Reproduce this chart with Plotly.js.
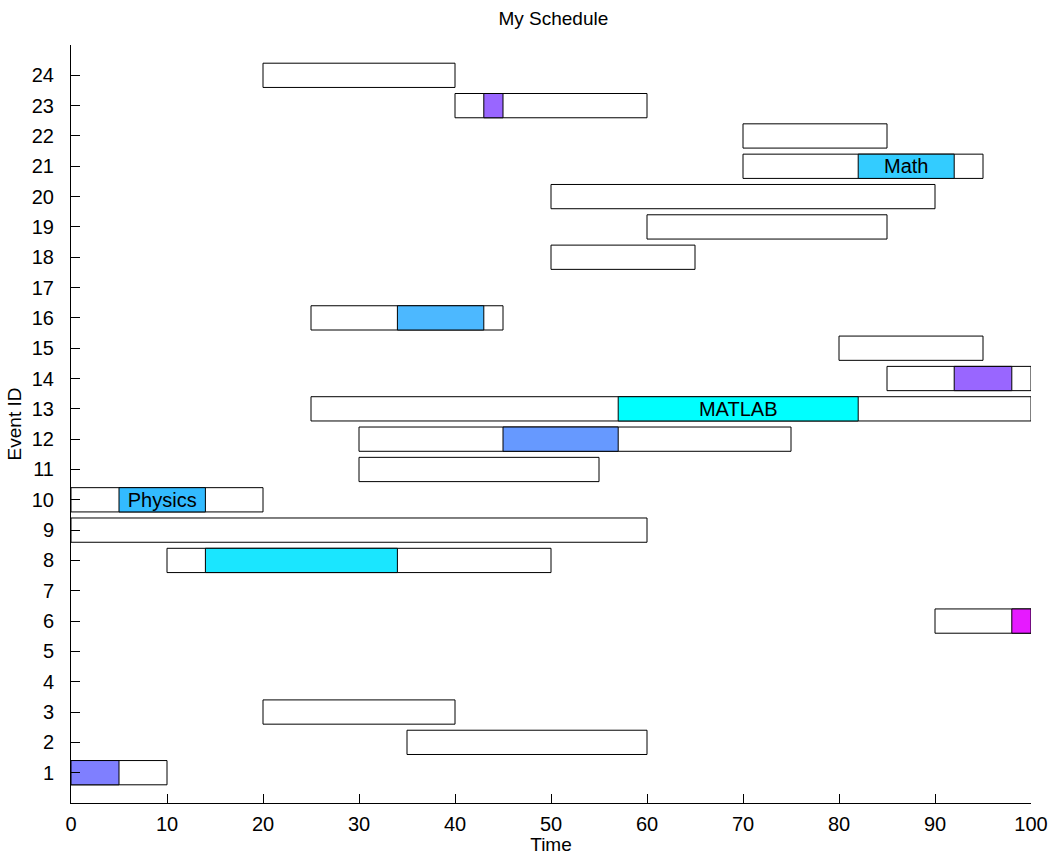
<!DOCTYPE html>
<html>
<head>
<meta charset="utf-8">
<script src="https://cdn.plot.ly/plotly-3.0.1.min.js"></script>
<style>
html,body{margin:0;padding:0;background:#fff;}
#chart{width:1050px;height:855px;}
</style>
</head>
<body>
<div id="chart"></div>
<script>
// Event bars (white boxes)
const eventIds    = [1, 2, 3, 6, 8, 9, 10, 11, 12, 13, 14, 15, 16, 18, 19, 20, 21, 22, 23, 24];
const eventStarts = [0, 35, 20, 90, 10, 0, 0, 30, 30, 25, 85, 80, 25, 50, 60, 50, 70, 70, 40, 20];
const eventEnds   = [10, 60, 40, 100, 50, 60, 20, 55, 75, 100, 100, 95, 45, 65, 85, 90, 95, 85, 60, 40];

// Highlighted sub-segments
const segIds    = [1, 6, 8, 10, 12, 13, 14, 16, 21, 23];
const segStarts = [0, 98, 14, 5, 45, 57, 92, 34, 82, 43];
const segEnds   = [5, 100, 34, 14, 57, 82, 98, 43, 92, 45];
const segColors = ['#7F7FFF', '#E61AFF', '#1AE6FF', '#33BBFF', '#6699FF', '#00FFFF', '#9966FF', '#4CB8FF', '#33CCFF', '#9966FF'];
const segLabels = ['', '', '', 'Physics', '', 'MATLAB', '', '', 'Math', ''];

const yTicks = Array.from({length: 24}, (_, i) => i + 1);
const xTicks = [0, 10, 20, 30, 40, 50, 60, 70, 80, 90, 100];

const font = 'Liberation Sans, Arial, sans-serif';

const traces = [
  {
    type: 'bar', orientation: 'h',
    y: eventIds,
    base: eventStarts,
    x: eventEnds.map((e, i) => e - eventStarts[i]),
    width: 0.8,
    marker: {color: '#ffffff', line: {color: '#000000', width: 1}},
    hoverinfo: 'skip', showlegend: false
  },
  {
    type: 'bar', orientation: 'h',
    y: segIds,
    base: segStarts,
    x: segEnds.map((e, i) => e - segStarts[i]),
    width: 0.8,
    marker: {color: segColors, line: {color: '#000000', width: 1}},
    text: segLabels,
    textposition: 'inside',
    insidetextanchor: 'middle',
    constraintext: 'none',
    textfont: {family: font, size: 20, color: '#000000'},
    hoverinfo: 'skip', showlegend: false
  }
];

const layout = {
  width: 1050, height: 855,
  margin: {l: 71, r: 19, t: 45, b: 52},
  paper_bgcolor: '#ffffff', plot_bgcolor: '#ffffff',
  barmode: 'overlay',
  font: {family: font, size: 20, color: '#000000'},
  title: {text: 'My Schedule', font: {family: font, size: 19, color: '#000'}, x: 0.527, xanchor: 'center', y: 0.986, yanchor: 'top'},
  xaxis: {
    range: [0, 100], tickvals: xTicks, ticktext: xTicks.map(String),
    ticks: 'inside', ticklen: 9, tickcolor: '#000', tickwidth: 1,
    showline: true, linecolor: '#000', linewidth: 1, mirror: false,
    showgrid: false, zeroline: false,
    ticklabelstandoff: 3,
    tickfont: {family: font, size: 20},
    title: {text: 'Time', font: {family: font, size: 19}, standoff: 3}
  },
  yaxis: {
    range: [0, 25], tickvals: yTicks, ticktext: yTicks.map(String),
    ticks: 'inside', ticklen: 9, tickcolor: '#000', tickwidth: 1,
    showline: true, linecolor: '#000', linewidth: 1, mirror: false,
    showgrid: false, zeroline: false,
    ticklabelstandoff: 12,
    tickfont: {family: font, size: 20},
    title: {text: 'Event ID', font: {family: font, size: 19}, standoff: 5}
  }
};

Plotly.newPlot('chart', traces, layout, {displayModeBar: false, staticPlot: true});
</script>
</body>
</html>
